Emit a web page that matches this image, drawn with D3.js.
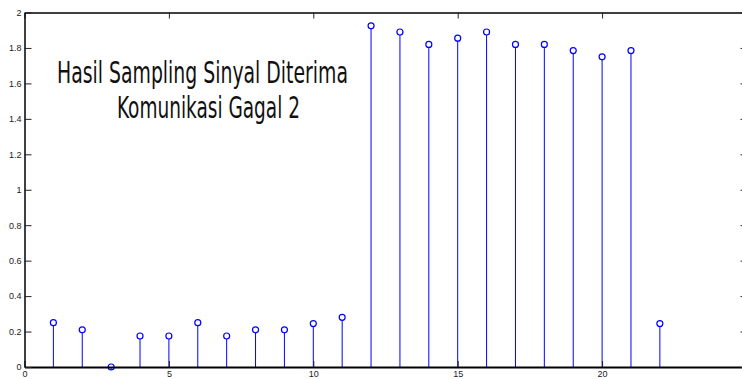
<!DOCTYPE html>
<html>
<head>
<meta charset="utf-8">
<script src="https://cdn.jsdelivr.net/npm/d3@7"></script>
<style>
  html, body { margin: 0; padding: 0; background: #fff; }
  svg { display: block; }
</style>
</head>
<body>
<svg id="chart" width="742" height="379"></svg>
<script>
// Sample indices and received sample values
const sampleIndex = [1, 2, 3, 4, 5, 6, 7, 8, 9, 10, 11, 12, 13, 14, 15, 16, 17, 18, 19, 20, 21, 22];
const sampleValue = [0.25, 0.21, 0, 0.175, 0.175, 0.25, 0.175, 0.21, 0.21, 0.245, 0.28,
                     1.925, 1.89, 1.82, 1.855, 1.89, 1.82, 1.82, 1.785, 1.75, 1.785, 0.245];
const xTicks = [0, 5, 10, 15, 20];
const yTicks = [0, 0.2, 0.4, 0.6, 0.8, 1, 1.2, 1.4, 1.6, 1.8, 2];
const titleLines = ["Hasil Sampling Sinyal Diterima", "Komunikasi Gagal 2"];

const svg = d3.select("#chart");
const plotLeft = 24.5, plotRight = 746.5, plotTop = 12.5, plotBottom = 367;

const x = d3.scaleLinear().domain([0, 25]).range([plotLeft, plotRight]);
const y = d3.scaleLinear().domain([0, 2]).range([plotBottom, plotTop]);

const stemColor = "#0000ff";
const tickFont = "Liberation Sans, Arial, sans-serif";

// Stems
const stems = svg.append("g");
stems.selectAll("line")
  .data(sampleIndex)
  .join("line")
  .attr("x1", d => x(d)).attr("x2", d => x(d))
  .attr("y1", y(0))
  .attr("y2", (d, i) => y(sampleValue[i]) + 3)
  .attr("stroke", stemColor)
  .attr("stroke-width", 1);

// Markers
stems.selectAll("circle")
  .data(sampleIndex)
  .join("circle")
  .attr("cx", d => x(d))
  .attr("cy", (d, i) => y(sampleValue[i]))
  .attr("r", 3)
  .attr("fill", "none")
  .attr("stroke", stemColor)
  .attr("stroke-width", 1.2);

// Bottom axis with labels, ticks pointing into the plot
const xAxisBottom = d3.axisBottom(x).tickValues(xTicks).tickSizeInner(-6).tickSizeOuter(0).tickPadding(3.5);
const gxb = svg.append("g").attr("transform", `translate(0,${plotBottom})`).call(xAxisBottom);
gxb.select(".domain").attr("stroke", "#000").attr("stroke-width", 2.2);
gxb.selectAll(".tick line").attr("stroke", "#222");
gxb.selectAll("text").attr("font-family", tickFont).attr("font-size", 9).attr("fill", "#222");

// Top axis, ticks only
const xAxisTop = d3.axisTop(x).tickValues(xTicks).tickSizeInner(-6).tickSizeOuter(0).tickFormat("");
const gxt = svg.append("g").attr("transform", `translate(0,${plotTop})`).call(xAxisTop);
gxt.select(".domain").attr("stroke", "#000").attr("stroke-width", 1.3);
gxt.selectAll(".tick line").attr("stroke", "#222");

// Left axis with labels
const yAxisLeft = d3.axisLeft(y).tickValues(yTicks).tickSizeInner(-7).tickSizeOuter(0).tickPadding(3)
  .tickFormat(d3.format("~g"));
const gyl = svg.append("g").attr("transform", `translate(${plotLeft},0)`).call(yAxisLeft);
gyl.select(".domain").attr("stroke", "#000").attr("stroke-width", 1.5);
gyl.selectAll(".tick line").attr("stroke", "#222");
gyl.selectAll("text").attr("font-family", tickFont).attr("font-size", 9).attr("fill", "#222")
  .attr("x", -3);

// Right axis, ticks only
const yAxisRight = d3.axisRight(y).tickValues(yTicks).tickSizeInner(-6).tickSizeOuter(0).tickFormat("");
const gyr = svg.append("g").attr("transform", `translate(${plotRight},0)`).call(yAxisRight);
gyr.select(".domain").attr("stroke", "#000").attr("stroke-width", 1.3);
gyr.selectAll(".tick line").attr("stroke", "#222");

// Title inside the plot
const titleFont = "'Liberation Sans Narrow', 'DejaVu Sans Condensed', 'Roboto', sans-serif";
const titleSpecs = [
  { cx: 202.5, base: 83, width: 291 },
  { cx: 208.5, base: 118, width: 183 }
];
svg.append("g").selectAll("text")
  .data(titleLines)
  .join("text")
  .attr("x", (d, i) => titleSpecs[i].cx)
  .attr("y", (d, i) => titleSpecs[i].base)
  .attr("text-anchor", "middle")
  .attr("font-family", titleFont)
  .attr("font-size", 31)
  .attr("font-weight", 300)
  .attr("fill", "#111")
  .attr("textLength", (d, i) => titleSpecs[i].width)
  .attr("lengthAdjust", "spacingAndGlyphs")
  .text(d => d);
</script>
</body>
</html>
